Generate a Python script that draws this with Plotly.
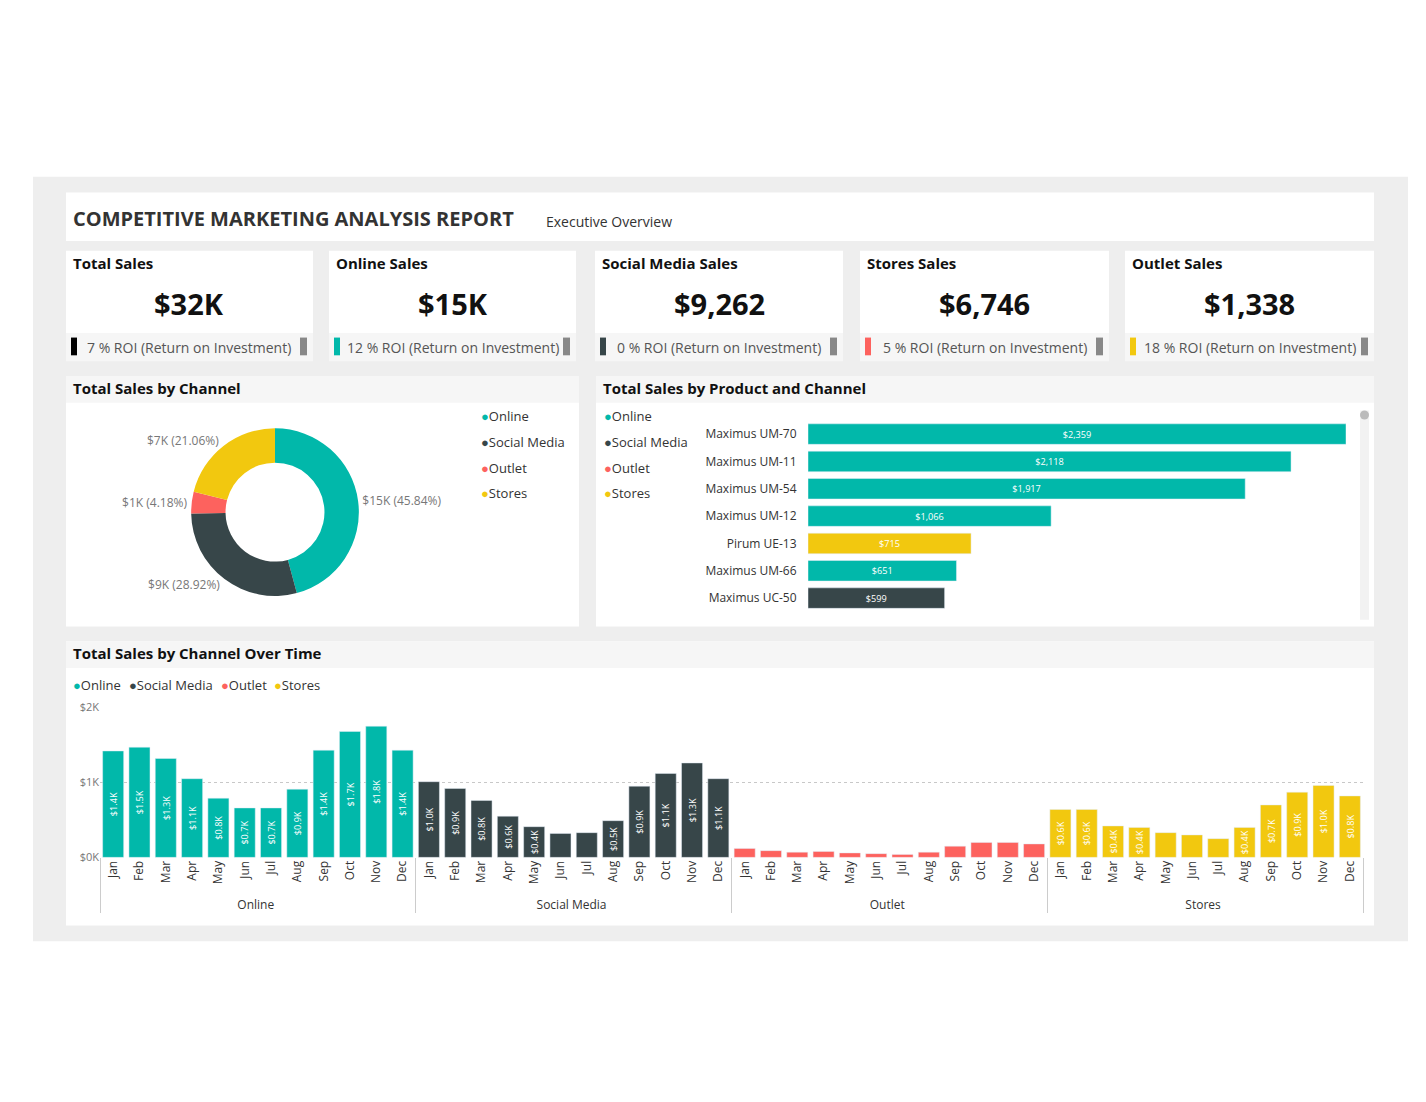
import plotly.graph_objects as go

W, H = 1426, 1102

# ---- data ----
channels = ["Online", "Social Media", "Outlet", "Stores"]
channel_colors = ["#01B8AA", "#374649", "#FD625E", "#F2C80F"]
channel_sales = [14663, 9262, 1338, 6746]
channel_labels = ["$15K (45.84%)", "$9K (28.92%)", "$1K (4.18%)", "$7K (21.06%)"]

kpi_titles = ["Total Sales", "Online Sales", "Social Media Sales", "Stores Sales", "Outlet Sales"]
kpi_values = ["$32K", "$15K", "$9,262", "$6,746", "$1,338"]
kpi_roi = ["7 % ROI (Return on Investment)", "12 % ROI (Return on Investment)",
           "0 % ROI (Return on Investment)", "5 % ROI (Return on Investment)",
           "18 % ROI (Return on Investment)"]
kpi_colors = ["#000000", "#01B8AA", "#374649", "#FD625E", "#F2C80F"]

products = ["Maximus UM-70", "Maximus UM-11", "Maximus UM-54", "Maximus UM-12",
            "Pirum UE-13", "Maximus UM-66", "Maximus UC-50"]
product_sales = [2359, 2118, 1917, 1066, 715, 651, 599]
product_channel = ["Online", "Online", "Online", "Online", "Stores", "Online", "Social Media"]

months = ["Jan", "Feb", "Mar", "Apr", "May", "Jun", "Jul", "Aug", "Sep", "Oct", "Nov", "Dec"]
online_k = [1.42, 1.47, 1.32, 1.05, 0.79, 0.66, 0.66, 0.91, 1.43, 1.68, 1.75, 1.43]
social_k = [1.01, 0.92, 0.76, 0.55, 0.41, 0.32, 0.33, 0.49, 0.95, 1.12, 1.26, 1.05]
outlet_k = [0.12, 0.09, 0.07, 0.08, 0.06, 0.05, 0.04, 0.07, 0.15, 0.20, 0.20, 0.18]
stores_k = [0.64, 0.64, 0.42, 0.40, 0.33, 0.30, 0.25, 0.40, 0.70, 0.87, 0.96, 0.82]


def px(x):
    return x / W


def py(y):
    return 1 - y / H


FONT = "Open Sans"
cmap = dict(zip(channels, channel_colors))
shapes = []
ann = []


def rect(x0, y0, x1, y1, color):
    shapes.append(dict(type="rect", xref="paper", yref="paper", x0=px(x0), x1=px(x1),
                       y0=py(y1), y1=py(y0), fillcolor=color, line_width=0, layer="below"))


def text(x, y, s, size=13, color="#333", bold=False, xanchor="left"):
    ann.append(dict(xref="paper", yref="paper", x=px(x), y=py(y), text=f"<b>{s}</b>" if bold else s,
                    showarrow=False, xanchor=xanchor, yanchor="middle",
                    font=dict(family=FONT, size=size, color=color)))


# backgrounds
rect(25, 163, 1400, 938, "#EEEEEE")
rect(58, 179, 1366, 228, "white")
text(63, 205, "COMPETITIVE MARKETING ANALYSIS REPORT", 20, "#333", True)
text(536, 208, "Executive Overview", 14, "#333")

# KPI cards
card_x = [(58, 305), (321, 568), (587, 835), (852, 1101), (1117, 1366)]
for (x0, x1), t, v, r, c in zip(card_x, kpi_titles, kpi_values, kpi_roi, kpi_colors):
    rect(x0, 238, x1, 322, "white")
    rect(x0, 322, x1, 350, "#F6F6F6")
    text(x0 + 5, 250, t, 15, "#111", True)
    text((x0 + x1) / 2, 291, v, 29, "#111", True, "center")
    rect(x0 + 5, 326, x0 + 11, 344, c)
    rect(x1 - 13, 326, x1 - 6, 344, "#888888")
    text((x0 + x1) / 2, 336, r, 14, "#555", xanchor="center")

# section panels
for (x0, x1, y0, y1, title) in [(58, 571, 365, 619, "Total Sales by Channel"),
                                (588, 1366, 365, 619, "Total Sales by Product and Channel"),
                                (58, 1366, 634, 922, "Total Sales by Channel Over Time")]:
    rect(x0, y0, x1, y1, "white")
    rect(x0, y0, x1, y0 + 27, "#F6F6F6")
    text(x0 + 5, y0 + 12, title, 15, "#111", True)

# legends
for i, (ch, col) in enumerate(zip(channels, channel_colors)):
    for lx in (471, 594):
        text(lx, 406 + 26 * i, f"<span style='color:{col}'>●</span>{ch}", 13, "#333")
leg_x = [63, 119, 211, 264]
for ch, col, lx in zip(channels, channel_colors, leg_x):
    text(lx, 678, f"<span style='color:{col}'>●</span>{ch}", 13, "#333")

# scrollbar
shapes.append(dict(type="rect", xref="paper", yref="paper", x0=px(1352), x1=px(1361),
                   y0=py(612), y1=py(400), fillcolor="#F2F2F2", line_width=0))
shapes.append(dict(type="circle", xref="paper", yref="paper", x0=px(1352), x1=px(1361),
                   y0=py(409), y1=py(400), fillcolor="#BBBBBB", line_width=0))

fig = go.Figure()

# donut
fig.add_trace(go.Pie(
    labels=channels, values=channel_sales, text=channel_labels, hole=0.59, sort=False,
    direction="clockwise", rotation=0, marker=dict(colors=channel_colors),
    textinfo="text", textposition="outside", showlegend=False,
    textfont=dict(family=FONT, size=12, color="#777"),
    domain=dict(x=[px(182), px(352)], y=[py(588), py(418)])))

# product bars
fig.add_trace(go.Bar(
    x=product_sales, y=products, orientation="h",
    marker=dict(color=[cmap[c] for c in product_channel]),
    text=[f"${v:,}" for v in product_sales], textposition="inside", insidetextanchor="middle",
    textfont=dict(family=FONT, size=12, color="white"),
    xaxis="x", yaxis="y", showlegend=False, width=0.75))

# monthly bars
cat_ch, cat_m, vals, cols = [], [], [], []
for ch, series in zip(channels, [online_k, social_k, outlet_k, stores_k]):
    for m, v in zip(months, series):
        cat_ch.append(ch)
        cat_m.append(m)
        vals.append(v)
        cols.append(cmap[ch])
fig.add_trace(go.Bar(
    x=[cat_ch, cat_m], y=vals, marker=dict(color=cols),
    text=[f"${v:.1f}K" for v in vals], textposition="inside", textangle=-90,
    insidetextanchor="middle", textfont=dict(family=FONT, size=11, color="white"),
    xaxis="x2", yaxis="y2", showlegend=False, width=0.8))

fig.update_layout(
    width=W, height=H, margin=dict(l=0, r=0, t=0, b=0),
    paper_bgcolor="white", plot_bgcolor="rgba(0,0,0,0)",
    font=dict(family=FONT, size=12, color="#333"),
    shapes=shapes, annotations=ann,
    uniformtext=dict(minsize=9, mode="hide"),
    xaxis=dict(domain=[px(800), px(1338)], range=[0, 2359], visible=False),
    yaxis=dict(domain=[py(604), py(410)], autorange="reversed", anchor="x",
               tickfont=dict(size=12, color="#333"), showgrid=False, ticks="outside",
               ticklen=8, tickcolor="rgba(0,0,0,0)"),
    xaxis2=dict(domain=[px(92), px(1355)], anchor="y2", tickangle=-90,
                tickfont=dict(size=12, color="#333"), showline=False, showgrid=False,
                showdividers=True, dividercolor="#CCCCCC"),
    yaxis2=dict(domain=[py(853), py(701)], range=[0, 2], anchor="x2",
                tickvals=[0, 1, 2], ticktext=["$0K", "$1K", "$2K"],
                tickfont=dict(size=11, color="#777"), showgrid=True,
                gridcolor="#C8C8C8", griddash="dot", zeroline=False),
    bargap=0.2,
)

fig.write_html("out.html")
